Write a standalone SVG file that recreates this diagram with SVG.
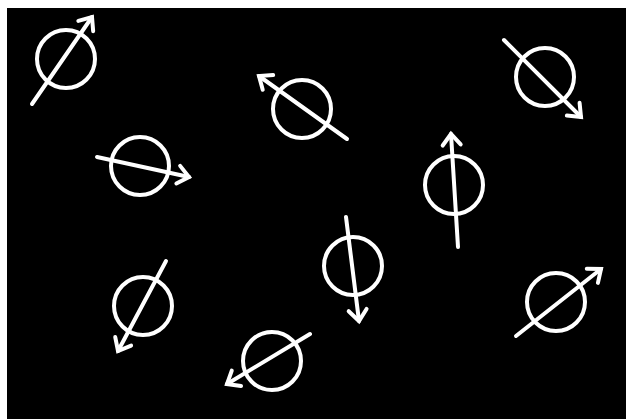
<svg xmlns="http://www.w3.org/2000/svg" width="626" height="419" viewBox="0 0 626 419">
<defs>
<marker id="ah" markerUnits="userSpaceOnUse" markerWidth="30" markerHeight="30" refX="0" refY="0" viewBox="-15 -15 30 30" orient="auto" overflow="visible">
<path d="M-11,-9 L0,0 L-11,9" fill="none" stroke="#fff" stroke-width="4" stroke-linecap="round" stroke-linejoin="miter"/>
</marker>
</defs>
<style>
.c{fill:none;stroke:#fff;stroke-width:4}
.l{stroke:#fff;stroke-width:4;stroke-linecap:round;marker-end:url(#ah)}
</style>
<rect width="626" height="419" fill="#fff"/>
<rect x="7" y="8" width="619" height="411" fill="#000"/>
<g id="s1"><circle class="c" cx="66" cy="59" r="29"/><line class="l" x1="32" y1="104" x2="92" y2="17"/></g>
<g id="s2"><circle class="c" cx="302" cy="109" r="29"/><line class="l" x1="347" y1="139" x2="259" y2="76"/></g>
<g id="s3"><circle class="c" cx="545" cy="77" r="29"/><line class="l" x1="504" y1="40" x2="581" y2="117"/></g>
<g id="s4"><circle class="c" cx="140" cy="166" r="29"/><line class="l" x1="97" y1="157" x2="189" y2="177"/></g>
<g id="s5"><circle class="c" cx="454" cy="185" r="29"/><line class="l" x1="458" y1="247" x2="451" y2="134"/></g>
<g id="s6"><circle class="c" cx="353" cy="266" r="29"/><line class="l" x1="346" y1="217" x2="359" y2="321"/></g>
<g id="s7"><circle class="c" cx="143" cy="306" r="29"/><line class="l" x1="166" y1="261" x2="118" y2="351"/></g>
<g id="s8"><circle class="c" cx="272" cy="361" r="29"/><line class="l" x1="310" y1="334" x2="227" y2="384"/></g>
<g id="s9"><circle class="c" cx="556" cy="302" r="29"/><line class="l" x1="516" y1="336" x2="601" y2="269"/></g>
</svg>
